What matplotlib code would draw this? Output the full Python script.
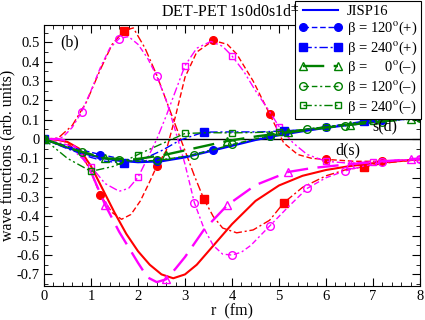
import matplotlib
matplotlib.use("Agg")
import matplotlib.pyplot as plt
from matplotlib.ticker import MultipleLocator, FuncFormatter

plt.rcParams['font.family'] = ['Liberation Serif', 'DejaVu Serif']
plt.rcParams['mathtext.fontset'] = 'stix'
plt.rcParams['axes.unicode_minus'] = False

# ---- d(s) component (red / magenta) ----
jisp_d_r = [0, 0.25, 0.5, 0.75, 1.0, 1.25, 1.5, 1.75, 2.0, 2.25, 2.5, 2.75, 3.0, 3.25, 3.5,
            3.75, 4.0, 4.5, 5.0, 5.5, 6.0, 6.5, 7.0, 7.5, 8.0]
jisp_d_v = [0, -0.002, -0.015, -0.05, -0.14, -0.26, -0.38, -0.49, -0.58, -0.65, -0.70, -0.72,
            -0.70, -0.65, -0.58, -0.51, -0.44, -0.32, -0.24, -0.19, -0.16, -0.14, -0.125, -0.115, -0.105]

p120_d_r = [0, 0.4, 0.8, 1.0, 1.2, 1.45, 1.65, 1.85, 2.05, 2.25, 2.4, 2.6, 2.8, 3.0, 3.25, 3.6,
            3.9, 4.1, 4.45, 4.8, 5.1, 5.4, 5.7, 6.0, 6.6, 7.2, 7.6, 8.0]
p120_d_v = [0, -0.005, -0.08, -0.17, -0.29, -0.38, -0.415, -0.39, -0.32, -0.22, -0.14, -0.06,
            0.12, 0.32, 0.45, 0.51, 0.49, 0.44, 0.30, 0.13, -0.02, -0.08, -0.10, -0.105, -0.115,
            -0.115, -0.11, -0.105]

p240_d_r = [0, 0.3, 0.6, 0.9, 1.2, 1.45, 1.7, 1.9, 2.15, 2.4, 2.6, 2.8, 3.0, 3.2, 3.4, 3.6, 3.8,
            4.1, 4.45, 4.8, 5.1, 5.5, 6.0, 6.4, 6.8, 7.4, 8.0]
p240_d_v = [0, 0.005, 0.07, 0.19, 0.36, 0.49, 0.56, 0.575, 0.47, 0.33, 0.20, 0.07, -0.06, -0.19,
            -0.31, -0.40, -0.46, -0.485, -0.47, -0.42, -0.33, -0.25, -0.19, -0.16, -0.143, -0.12, -0.105]

m0_d_r = [0, 0.3, 0.5, 0.75, 1.0, 1.3, 1.6, 2.0, 2.2, 2.4, 2.6, 2.8, 3.0, 3.4, 3.9, 4.5, 5.2,
          5.7, 6.5, 7.2, 7.8, 8.0]
m0_d_v = [0, 0.0, -0.01, -0.06, -0.17, -0.34, -0.48, -0.64, -0.715, -0.74, -0.725, -0.67, -0.61,
          -0.47, -0.342, -0.238, -0.17, -0.15, -0.13, -0.115, -0.105, -0.10]

m120_d_r = [0, 0.2, 0.4, 0.6, 0.8, 1.0, 1.2, 1.4, 1.6, 1.8, 2.0, 2.2, 2.4, 2.6, 2.8, 3.0, 3.2,
            3.4, 3.6, 3.8, 4.0, 4.2, 4.4, 4.8, 5.2, 5.6, 6.0, 6.4, 6.8, 7.2, 7.6, 8.0]
m120_d_v = [0, 0.0, 0.01, 0.06, 0.14, 0.25, 0.37, 0.47, 0.52, 0.53, 0.49, 0.42, 0.325, 0.20,
            0.04, -0.13, -0.33, -0.46, -0.55, -0.595, -0.60, -0.585, -0.55, -0.45, -0.35, -0.255,
            -0.20, -0.165, -0.14, -0.12, -0.11, -0.105]

m240_d_r = [0, 0.5, 1.0, 1.3, 1.6, 1.8, 2.0, 2.2, 2.4, 2.6, 2.8, 3.0, 3.25, 3.55, 3.8, 4.0, 4.25,
            4.5, 4.75, 5.0, 5.3, 5.6, 6.0, 6.5, 7.0, 7.5, 8.0]
m240_d_v = [0, -0.03, -0.142, -0.23, -0.27, -0.255, -0.198, -0.10, 0.0, 0.12, 0.25, 0.38, 0.47,
            0.505, 0.48, 0.43, 0.35, 0.25, 0.16, 0.065, -0.02, -0.08, -0.115, -0.125, -0.117,
            -0.11, -0.104]

# ---- s(d) component (blue / green) ----
jisp_s_r = [0, 0.5, 1.0, 1.5, 2.0, 2.5, 3.0, 3.5, 4.0, 4.5, 5.0, 5.5, 6.0, 6.5, 7.0, 7.5, 8.0]
jisp_s_v = [0, -0.045, -0.085, -0.11, -0.12, -0.115, -0.095, -0.065, -0.035, -0.005, 0.02,
            0.04, 0.058, 0.073, 0.088, 0.10, 0.11]

p120_s_r = [0, 0.6, 1.2, 1.8, 2.4, 3.0, 3.6, 4.2, 4.8, 5.4, 6.0, 6.6, 7.2, 7.6, 8.0]
p120_s_v = [0, -0.045, -0.08, -0.11, -0.115, -0.09, -0.054, -0.02, 0.015, 0.04, 0.06, 0.08,
            0.10, 0.105, 0.11]

p240_s_r = [0, 0.5, 1.0, 1.3, 1.7, 2.1, 2.5, 2.9, 3.4, 4.0, 4.6, 5.1, 5.6, 6.2, 6.8, 7.4, 8.0]
p240_s_v = [0, -0.05, -0.095, -0.115, -0.123, -0.105, -0.06, -0.005, 0.036, 0.037, 0.037,
            0.042, 0.05, 0.07, 0.092, 0.103, 0.11]

m0_s_r = [0, 0.65, 1.3, 1.95, 2.6, 3.25, 3.9, 4.55, 5.2, 5.85, 6.5, 7.15, 7.8, 8.0]
m0_s_v = [0, -0.055, -0.10, -0.105, -0.08, -0.045, -0.01, 0.015, 0.035, 0.055, 0.074, 0.09,
          0.105, 0.11]

m120_s_r = [0, 0.4, 0.8, 1.2, 1.6, 2.0, 2.4, 2.8, 3.2, 3.6, 4.0, 4.4, 4.8, 5.2, 5.6, 6.0, 6.4,
            6.8, 7.2, 7.6, 8.0]
m120_s_v = [0, -0.035, -0.066, -0.095, -0.11, -0.115, -0.11, -0.097, -0.08, -0.055, -0.028,
            -0.005, 0.018, 0.037, 0.053, 0.063, 0.07, 0.08, 0.09, 0.10, 0.11]

m240_s_r = [0, 0.5, 1.0, 1.5, 2.0, 2.5, 3.0, 3.5, 4.0, 4.5, 5.0, 5.5, 6.0, 6.5, 7.0, 7.5, 8.0]
m240_s_v = [0, -0.10, -0.167, -0.14, -0.08, -0.025, 0.029, 0.033, 0.032, 0.034, 0.038, 0.048,
            0.063, 0.08, 0.096, 0.104, 0.11]

# marker positions along r for each beta
marks_p120 = [0, 1.2, 2.4, 3.6, 4.8, 6.0, 7.2]
marks_p240 = [0, 1.7, 3.4, 5.1, 6.8]
marks_m0 = [0, 1.3, 2.6, 3.9, 5.2, 6.5, 7.8]
marks_m120 = [0, 0.8, 1.6, 2.4, 3.2, 4.0, 4.8, 5.6, 6.4, 7.2, 8.0]
marks_m240 = [0, 1, 2, 3, 4, 5, 6, 7, 8]

labels = ['JISP16',
          r'β = 120$^\mathrm{o}$(+)',
          r'β = 240$^\mathrm{o}$(+)',
          r'β =     0$^\mathrm{o}$(–)',
          r'β = 120$^\mathrm{o}$(–)',
          r'β = 240$^\mathrm{o}$(–)']


def idx(r, marks):
    return [i for i, x in enumerate(r) if any(abs(x - m) < 1e-6 for m in marks)]


fig = plt.figure(figsize=(4.25, 3.2), dpi=100)
ax = fig.add_axes([44 / 425, 1 - 286 / 320, 376 / 425, 261 / 320])

ax.axhline(0, color='k', lw=1.0, zorder=1)

ls_p120 = (0, (4, 2))
ls_p240 = (0, (6, 2, 1.5, 2))
ls_m0 = (0, (9, 4))
ls_m120 = (0, (4, 2, 4, 2, 1.5, 2))
ls_m240 = (0, (6, 2, 1.5, 2, 1.5, 2))
ms = 5.5

# d(s)
ax.plot(jisp_d_r, jisp_d_v, color='red', lw=1.5)
ax.plot(p120_d_r, p120_d_v, color='red', lw=1, ls=ls_p120, marker='o', ms=ms,
        markevery=idx(p120_d_r, marks_p120[1:]))
ax.plot(p240_d_r, p240_d_v, color='red', lw=1, ls=ls_p240, marker='s', ms=ms,
        markevery=idx(p240_d_r, marks_p240[1:]))
ax.plot(m0_d_r, m0_d_v, color='magenta', lw=1.7, ls=ls_m0, marker='^', ms=ms, mfc='none',
        markevery=idx(m0_d_r, marks_m0[1:]))
ax.plot(m120_d_r, m120_d_v, color='magenta', lw=1, ls=ls_m120, marker='o', ms=ms, mfc='none',
        markevery=idx(m120_d_r, marks_m120[1:]))
ax.plot(m240_d_r, m240_d_v, color='magenta', lw=1, ls=ls_m240, marker='s', ms=ms - 0.5, mfc='none',
        markevery=idx(m240_d_r, marks_m240[1:]))

# s(d)
h = []
h += ax.plot(jisp_s_r, jisp_s_v, color='blue', lw=1.5)
h += ax.plot(p120_s_r, p120_s_v, color='blue', lw=1, ls=ls_p120, marker='o', ms=ms,
             markevery=idx(p120_s_r, marks_p120))
h += ax.plot(p240_s_r, p240_s_v, color='blue', lw=1, ls=ls_p240, marker='s', ms=ms,
             markevery=idx(p240_s_r, marks_p240))
h += ax.plot(m0_s_r, m0_s_v, color='green', lw=1.7, ls=ls_m0, marker='^', ms=ms, mfc='none',
             markevery=idx(m0_s_r, marks_m0))
h += ax.plot(m120_s_r, m120_s_v, color='green', lw=1, ls=ls_m120, marker='o', ms=ms, mfc='none',
             markevery=idx(m120_s_r, marks_m120))
h += ax.plot(m240_s_r, m240_s_v, color='green', lw=1, ls=ls_m240, marker='s', ms=ms - 0.5, mfc='none',
             markevery=idx(m240_s_r, marks_m240))

ax.set_xlim(0, 8)
ax.set_ylim(-0.76, 0.59)
ax.xaxis.set_major_locator(MultipleLocator(1))
ax.xaxis.set_minor_locator(MultipleLocator(0.2))
ax.yaxis.set_major_locator(MultipleLocator(0.1))
ax.yaxis.set_minor_locator(MultipleLocator(0.05))
ax.yaxis.set_major_formatter(FuncFormatter(lambda v, p: '%g' % round(v, 2)))
ax.tick_params(which='both', direction='in', top=True, right=True, labelsize=10.5, pad=3)
ax.tick_params(which='major', length=6)
ax.tick_params(which='minor', length=3)

ax.set_xlabel('r  (fm)', fontsize=11.5, labelpad=0)
ax.set_ylabel('wave functions (arb. units)', fontsize=11.5, labelpad=1)

ax.text(0.55, 0.50, '(b)', fontsize=11.5, ha='center', va='center')
ax.text(7.26, 0.064, 's(d)', fontsize=11.5, ha='center', va='center')
ax.text(6.47, -0.056, 'd(s)', fontsize=11.5, ha='center', va='center')

fig.text(161 / 425, 1 - 12 / 320, r'DET-PET 1s0d0s1d$^{\pm}$', fontsize=11.5, va='center', ha='left')

leg = ax.legend(h, labels, loc='upper right', bbox_to_anchor=(421 / 425, 1 - 1 / 320),
                bbox_transform=fig.transFigure, numpoints=2, fontsize=10.5, handlelength=3.0,
                labelspacing=0.15, borderpad=0.25, handletextpad=0.3, borderaxespad=0,
                fancybox=False, framealpha=1, edgecolor='black')
leg.get_frame().set_linewidth(0.8)

fig.savefig('out.png', dpi=100)
